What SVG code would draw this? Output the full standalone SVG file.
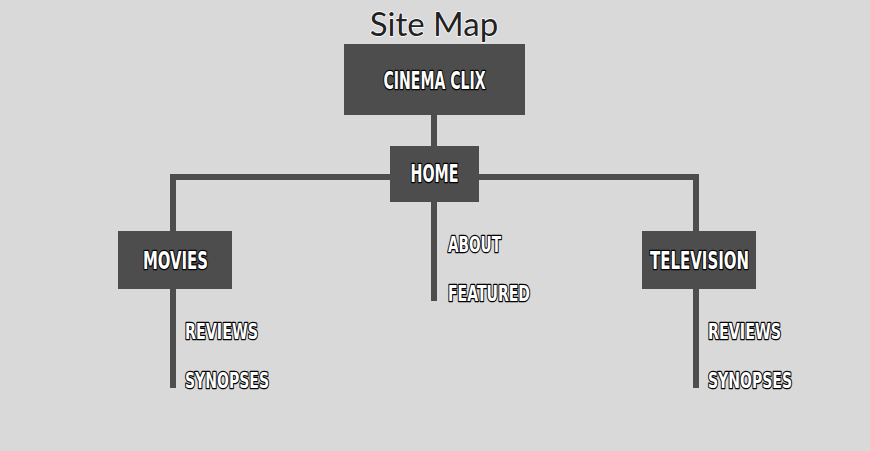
<svg xmlns="http://www.w3.org/2000/svg" width="870" height="451" viewBox="0 0 870 451">
<style>
.box{fill:#4d4d4d}
.ln{stroke:#4d4d4d;stroke-width:6;fill:none;stroke-linecap:butt}
.t{font-family:"DejaVu Sans","Liberation Sans",sans-serif;font-weight:bold;font-stretch:condensed;fill:#fff;stroke:#000;stroke-width:2.6;paint-order:stroke;stroke-linejoin:round}
.bt{font-size:24px;text-anchor:middle}
.lt{font-size:22px}
.title{font-family:"Lato","Noto Sans",sans-serif;font-size:33px;fill:#222;text-anchor:middle;stroke:#fff;stroke-width:1.5;paint-order:stroke}
</style>
<rect width="870" height="451" fill="#d9d9d9"/>
<text class="title" x="434" y="36">Site Map</text>
<g id="connectors">
<line class="ln" x1="434" y1="115" x2="434" y2="146"/>
<polyline class="ln" points="173,231 173,177 696,177 696,231"/>
<line class="ln" x1="434" y1="202" x2="434" y2="301"/>
<line class="ln" x1="173" y1="289" x2="173" y2="388"/>
<line class="ln" x1="696" y1="289" x2="696" y2="388"/>
</g>
<g id="cinema-clix">
<rect class="box" x="344" y="44" width="181" height="71"/>
<text class="t bt" x="434.5" y="89" textLength="102" lengthAdjust="spacingAndGlyphs">CINEMA CLIX</text>
</g>
<g id="home">
<rect class="box" x="390" y="146" width="89" height="56"/>
<text class="t bt" x="434.5" y="182" textLength="48" lengthAdjust="spacingAndGlyphs">HOME</text>
</g>
<g id="movies">
<rect class="box" x="118" y="231" width="114" height="58"/>
<text class="t bt" x="175.5" y="269" textLength="65" lengthAdjust="spacingAndGlyphs">MOVIES</text>
</g>
<g id="television">
<rect class="box" x="642" y="231" width="114" height="58"/>
<text class="t bt" x="699.5" y="269" textLength="99" lengthAdjust="spacingAndGlyphs">TELEVISION</text>
</g>
<g id="about"><text class="t lt" x="448" y="252" textLength="53" lengthAdjust="spacingAndGlyphs">ABOUT</text></g>
<g id="featured"><text class="t lt" x="448" y="301" textLength="82" lengthAdjust="spacingAndGlyphs">FEATURED</text></g>
<g id="movies-reviews"><text class="t lt" x="185" y="339" textLength="73" lengthAdjust="spacingAndGlyphs">REVIEWS</text></g>
<g id="movies-synopses"><text class="t lt" x="185" y="388" textLength="84" lengthAdjust="spacingAndGlyphs">SYNOPSES</text></g>
<g id="tv-reviews"><text class="t lt" x="708" y="339" textLength="73" lengthAdjust="spacingAndGlyphs">REVIEWS</text></g>
<g id="tv-synopses"><text class="t lt" x="708" y="388" textLength="84" lengthAdjust="spacingAndGlyphs">SYNOPSES</text></g>
</svg>
